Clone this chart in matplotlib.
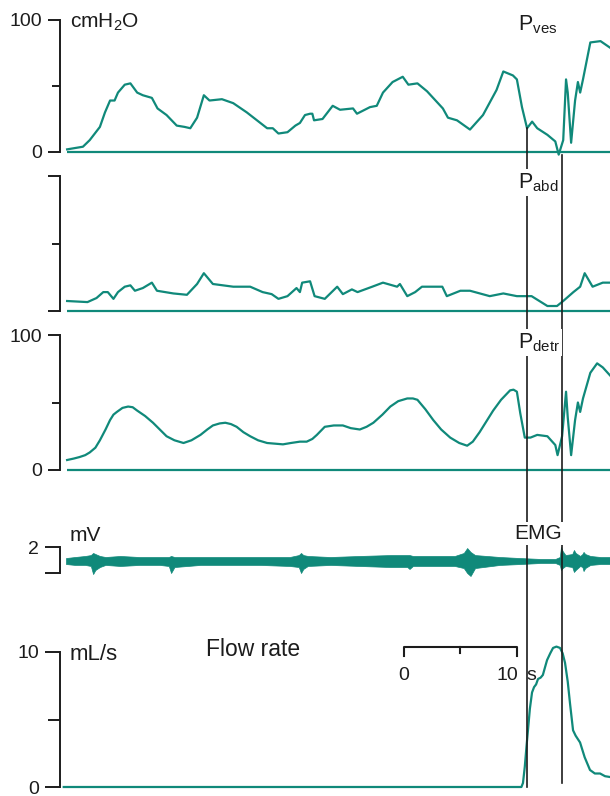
import matplotlib
matplotlib.use("Agg")
import matplotlib.pyplot as plt
from matplotlib.lines import Line2D
from matplotlib.transforms import blended_transform_factory

plt.rcParams['font.family'] = ['Liberation Sans', 'DejaVu Sans']
plt.rcParams['mathtext.default'] = 'regular'

TEAL = '#10897a'
INK = '#1c1c1c'

# time in s, pressures in cmH2O
ves_t = [0.1, 1.5, 2.1, 3.0, 3.45, 3.9, 4.3, 4.6, 5.2, 5.7, 6.3, 6.8, 7.6, 8.1, 8.9, 9.8, 10.5, 11.0, 11.6, 12.2,
         12.7, 13.8, 14.8, 16.0, 16.9, 17.8, 18.3, 18.8, 19.6, 20.3, 20.7, 21.15, 21.6, 21.8, 21.95, 22.7, 23.6, 24.25,
         25.4, 25.75, 26.9, 27.5, 28.05, 28.9, 29.8, 30.3, 31.1, 31.95, 33.35, 33.8, 34.6, 35.75, 36.9, 38.1, 38.7,
         39.55, 39.9, 40.35, 40.8, 41.25, 41.7, 42.6, 43.3, 43.6, 44.0, 44.25, 44.4, 44.7, 45.05, 45.3, 45.5, 45.75,
         46.4, 47.3, 48.15]
ves_p = [2, 4, 9, 19, 30, 39, 39, 45, 51, 52, 45, 43, 41, 33, 28, 20, 19, 18, 26, 43,
         39, 40, 37, 30, 24, 18, 18, 14, 15, 20, 22, 28, 29, 29, 24, 25, 35, 32,
         33, 29, 34, 35, 45, 53, 57, 51, 52, 46, 33, 26, 24, 17, 28, 47, 61,
         58, 55, 34, 18, 23, 18, 13, 8, -2, 9, 55, 45, 7, 39, 53, 45, 55,
         83, 84, 79]

abd_t = [0.1, 1.9, 2.7, 3.3, 3.7, 4.2, 4.6, 5.2, 5.7, 6.1, 6.8, 7.6, 8.05, 9.5, 10.7, 11.6, 12.2, 13.0, 14.8, 16.3,
         17.4, 18.2, 18.8, 19.6, 20.4, 20.7, 20.9, 21.6, 22.0, 22.9, 24.0, 24.5, 25.3, 25.8, 27.1, 28.05, 29.3, 29.55,
         30.2, 30.9, 31.5, 33.3, 33.7, 34.9, 35.75, 37.5, 38.7, 39.9, 41.2, 42.6, 43.45, 44.0, 44.9, 45.5, 45.9, 46.6,
         47.5, 48.15]
abd_p = [7.4, 6.6, 9.6, 14, 14, 9, 14, 18, 19, 15, 17, 21, 15, 13, 12, 20, 28, 20, 18, 18,
         14, 12.5, 9, 11, 17, 14, 21, 22, 11, 9, 18, 12.5, 16, 14, 18, 21, 18, 20,
         11, 14, 18, 18, 11, 15, 15, 11, 13, 11, 11, 3.7, 3.7, 7.4, 14, 18, 28, 18,
         21, 21]

det_t = [0.1, 0.7, 1.2, 1.7, 2.1, 2.6, 3.0, 3.5, 3.9, 4.2, 4.5, 5.0, 5.5, 5.9, 6.3, 7.0, 7.7, 8.3, 8.9, 9.6,
         10.4, 11.1, 11.9, 12.5, 13.0, 13.6, 14.1, 14.6, 15.1, 15.7, 16.3, 17.0, 17.8, 18.5, 19.2, 19.9, 20.7, 21.3,
         21.8, 22.2, 22.9, 23.7, 24.5, 25.2, 26.0, 26.6, 27.2, 28.0, 28.7, 29.4, 30.2, 30.7, 31.1, 31.8, 32.5, 33.2,
         34.0, 34.8, 35.5, 36.0, 36.6, 37.2, 37.8, 38.5, 39.3, 39.6, 39.9, 40.2, 40.6, 41.1, 41.7, 42.6, 43.3, 43.5,
         43.9, 44.25, 44.4, 44.7, 45.05, 45.3, 45.5, 45.75, 46.4, 47.0, 47.5, 48.15]
det_p = [7.4, 8.5, 9.6, 11, 13, 16.5, 22, 30, 37, 41, 43, 46, 47, 46.5, 44, 40, 35, 30, 25, 22,
         20, 22, 26, 30, 33, 34.5, 35, 34, 32, 28, 25, 22, 20, 19.5, 19, 20, 21, 21,
         23, 26, 32, 33, 33, 31, 30, 32, 35, 41, 47, 51, 53, 53, 52, 45, 37, 30,
         24, 20, 18, 21, 28, 36, 44, 52, 59, 59.5, 58, 42, 24, 24, 26, 25, 18.5, 11,
         25, 58, 39, 11, 37, 50, 43, 53, 72, 79, 76, 70]

# EMG envelope, mV
emg_t = [0.0, 0.8, 1.7, 2.2, 2.4, 2.6, 3.0, 3.5, 4.8, 6.5, 8.3, 9.1, 9.3, 9.6, 11.9, 14.5, 17.2, 19.8, 20.6, 20.8,
         21.0, 21.4, 23.4, 26.0, 28.7, 30.2, 30.4, 30.7, 32.2, 34.4, 35.2, 35.5, 35.8, 36.2, 38.4, 40.2, 42.0, 43.3,
         43.7, 43.8, 43.95, 44.2, 44.8, 44.95, 45.1, 45.5, 45.7, 45.8, 45.95, 46.4, 47.3, 48.15]
emg_hi = [1.15, 1.23, 1.31, 1.38, 1.54, 1.46, 1.31, 1.23, 1.31, 1.23, 1.23, 1.23, 1.31, 1.23, 1.23, 1.23, 1.23, 1.23,
          1.38, 1.54, 1.38, 1.31, 1.23, 1.31, 1.38, 1.38, 1.38, 1.31, 1.31, 1.31, 1.54, 1.92, 1.62, 1.38, 1.23, 1.15,
          1.08, 1.08, 1.23, 2.0, 1.69, 1.38, 1.46, 1.77, 1.54, 1.31, 1.46, 1.62, 1.46, 1.31, 1.23, 1.23]
emg_lo = [0.69, 0.62, 0.62, 0.54, -0.08, 0.23, 0.46, 0.62, 0.54, 0.62, 0.62, 0.54, 0.0, 0.46, 0.62, 0.62, 0.62, 0.54,
          0.46, 0.0, 0.31, 0.54, 0.62, 0.54, 0.46, 0.46, 0.31, 0.54, 0.54, 0.54, 0.38, 0.0, -0.23, 0.38, 0.62, 0.69,
          0.77, 0.77, 0.62, 0.23, 0.38, 0.54, 0.46, 0.08, 0.23, 0.54, 0.46, 0.15, 0.38, 0.62, 0.69, 0.69]

# flow, mL/s
flow_t = [-0.2, 40.3, 40.44, 40.6, 40.75, 40.88, 41.05, 41.24, 41.42, 41.6, 41.77, 42.0, 42.2, 42.4, 42.57, 42.85,
          43.1, 43.4, 43.72, 43.95, 44.16, 44.4, 44.6, 44.87, 45.1, 45.49, 45.9, 46.37, 46.8, 47.26, 47.7, 48.14]
flow_q = [0, 0, 0.3, 1.5, 3.0, 4.2, 5.8, 7.0, 7.4, 7.6, 8.0, 8.1, 8.3, 8.9, 9.4, 9.9,
          10.3, 10.4, 10.3, 9.9, 9.2, 7.8, 6.2, 4.2, 3.8, 3.3, 2.2, 1.26, 1.0, 1.0, 0.8, 0.74]

events = [40.8, 43.85]
bar_start, bar_len = 29.9, 10

W, H = 610, 796
fig = plt.figure(figsize=(W / 100, H / 100), dpi=100)
T0, T1 = -0.53, 48.14
X0 = 60


def add_panel(y_zero, y_top, v_top, lo, hi):
    # pixel rows of value 0 and v_top -> axes box
    ppu = (y_zero - y_top) / v_top
    top = y_top - (hi - v_top) * ppu
    bot = y_zero - lo * ppu
    ax = fig.add_axes([X0 / W, 1 - bot / H, 1 - X0 / W, (bot - top) / H])
    ax.set_xlim(T0, T1)
    ax.set_ylim(lo, hi)
    ax.patch.set_visible(False)
    for s in ['top', 'right', 'bottom']:
        ax.spines[s].set_visible(False)
    ax.spines['left'].set_bounds(0, v_top)
    ax.spines['left'].set_linewidth(1.4)
    ax.spines['left'].set_color(INK)
    ax.set_xticks([])
    ax.tick_params(axis='y', which='major', length=9, width=1.4, colors=INK, labelsize=14, pad=4)
    ax.tick_params(axis='y', which='minor', length=6, width=1.4, colors=INK)
    return ax


ax1 = add_panel(152, 20, 100, -10, 108)
ax2 = add_panel(311, 176, 100, -5, 108)
ax3 = add_panel(470, 335, 100, -5, 108)
ax4 = add_panel(573, 547, 2, -0.6, 2.4)
ax5 = add_panel(787, 652, 10, -0.5, 11.5)

for ax, t, p in [(ax1, ves_t, ves_p), (ax2, abd_t, abd_p), (ax3, det_t, det_p)]:
    ax.set_yticks([0, 100])
    ax.set_yticks([50], minor=True)
    ax.hlines(0, t[0], T1, color=TEAL, lw=1.6)
    ax.plot(t, p, color=TEAL, lw=1.6)
ax2.set_yticklabels(['', ''])

ax4.set_yticks([0, 2])
ax4.set_yticklabels(['', '2'])
ax4.tick_params(axis='y', which='major', length=11)
ax4.fill_between(emg_t, emg_lo, emg_hi, color=TEAL, lw=0.5)

ax5.set_yticks([0, 10])
ax5.set_yticks([5], minor=True)
ax5.tick_params(axis='y', which='major', length=11)
ax5.tick_params(axis='y', which='minor', length=9)
ax5.plot(flow_t, flow_q, color=TEAL, lw=1.6)

# time scale bar
b0, b1 = bar_start, bar_start + bar_len
ax5.plot([b0, b0, b1, b1], [9.7, 10.37, 10.37, 9.7], color=INK, lw=1.5)
ax5.plot([(b0 + b1) / 2] * 2, [10.37, 9.95], color=INK, lw=1.5)
ax5.text(b0, 7.95, '0', ha='center', va='baseline', fontsize=14, color=INK)
ax5.text(b1 + 0.1, 7.95, '10', ha='right', va='baseline', fontsize=14, color=INK)
ax5.text(events[0] - 0.05, 7.95, 's', ha='left', va='baseline', fontsize=14, color=INK)

# event markers through all traces
tr = blended_transform_factory(ax5.transData, fig.transFigure)
for t, ytop, ybot in [(events[0], 128, 787), (events[1], 155, 783)]:
    fig.add_artist(Line2D([t, t], [1 - ybot / H, 1 - ytop / H], transform=tr, color=INK, lw=1.2, zorder=5))


def label(x, y, s, box=False, **kw):
    kw.setdefault('fontsize', 15)
    if box:
        kw['bbox'] = dict(fc='white', ec='none', pad=1.5)
    fig.text(x / W, 1 - y / H, s, va='baseline', color=INK, zorder=6, **kw)


label(70, 28, r'cmH$_2$O')
label(518, 30, r'P$_{ves}$', fontsize=15.5)
label(518, 188, r'P$_{abd}$', box=True, fontsize=15.5)
label(518, 348, r'P$_{detr}$', box=True, fontsize=15.5)
label(514, 539, 'EMG', box=True)
label(70, 541, 'mV')
label(70, 660, 'mL/s', fontsize=16)
label(206, 656, 'Flow rate', fontsize=16.5)

fig.savefig('out.png', dpi=100)
